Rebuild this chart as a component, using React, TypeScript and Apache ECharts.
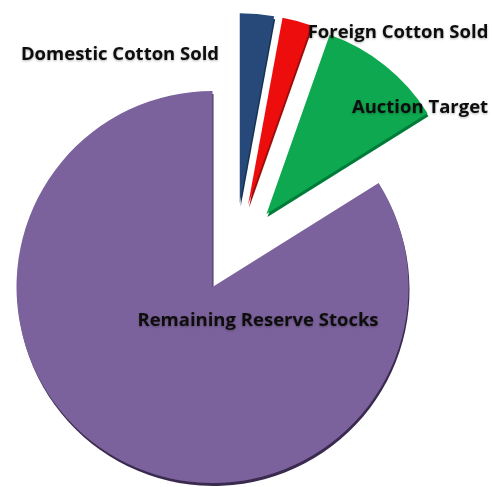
import React, { useEffect, useRef } from "react";
import * as echarts from "echarts";

const categories = [
  "Domestic Cotton Sold",
  "Foreign Cotton Sold",
  "Auction Target",
  "Remaining Reserve Stocks",
];
const shares = [2.9, 2.5, 10.7, 83.9];
const colors = ["#254a7a", "#ee1111", "#0aa84f", "#7b629c"];
const edgeColors = ["#16304f", "#9a0a0a", "#067a38", "#3a2c50"];
const exploded = [true, true, true, false];

const labelPos: [number, number][] = [
  [120, 52],
  [398, 30],
  [420, 105],
  [258, 318],
];

export default function App() {
  const ref = useRef<HTMLDivElement>(null);
  useEffect(() => {
    const chart = echarts.init(ref.current!, null, { renderer: "svg" });
    const makeSeries = (own: boolean, center: number[], radius: number, offset: number) => ({
      type: "pie",
      center,
      radius,
      startAngle: 90,
      clockwise: true,
      selectedMode: "multiple",
      selectedOffset: offset,
      avoidLabelOverlap: false,
      silent: true,
      emphasis: { disabled: true },
      label: { show: false },
      labelLine: { show: false },
      data: categories.map((name, i) => {
        const mine = exploded[i] === own;
        return {
          name,
          value: shares[i],
          selected: mine && exploded[i],
          itemStyle: mine
            ? {
                color: colors[i],
                shadowColor: edgeColors[i],
                shadowOffsetY: 3,
                shadowOffsetX: 1,
                shadowBlur: 1,
              }
            : { color: "rgba(0,0,0,0)" },
        };
      }),
    });
    chart.setOption({
      animation: false,
      series: [
        makeSeries(false, [212.5, 287], 196, 0),
        makeSeries(true, [235.2, 253], 190, 50),
      ],
      graphic: categories.map((name, i) => ({
        type: "text",
        x: labelPos[i][0],
        y: labelPos[i][1],
        z: 100,
        silent: true,
        style: {
          text: name,
          fill: "#111111",
          fontFamily: "Open Sans",
          fontWeight: "bold",
          fontSize: 18.5,
          align: "center",
          verticalAlign: "middle",
          textShadowColor: "rgba(0,0,0,0.3)",
          textShadowBlur: 2,
          textShadowOffsetY: 1,
        },
      })),
    });
    return () => chart.dispose();
  }, []);
  return (
    <div
      ref={ref}
      style={{ position: "absolute", left: 0, top: 0, width: 492, height: 487 }}
    />
  );
}
